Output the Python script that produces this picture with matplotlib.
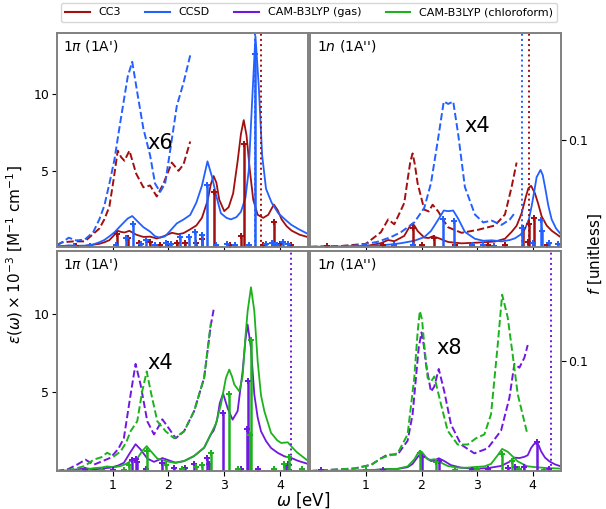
import matplotlib
matplotlib.use('Agg')
import matplotlib.pyplot as plt
import numpy as np

# colori
c_cc3 = '#a30e0e'
c_ccsd = '#2260ff'
c_gas = '#7118e0'
c_chl = '#1db21d'

# ---- 1pi (1A') coupled cluster ----
tl_ccsd_x = [0.0, 0.1, 0.21, 0.35, 0.5, 0.65, 0.76, 0.85, 0.94, 1.03, 1.12, 1.2, 1.27, 1.35, 1.45, 1.55, 1.67, 1.76, 1.85, 1.94,
             2.03, 2.15, 2.27, 2.39, 2.5, 2.6, 2.7, 2.78, 2.86, 2.94, 3.04, 3.12, 3.22, 3.3, 3.38, 3.44, 3.5, 3.56, 3.62, 3.68,
             3.75, 3.85, 3.97, 4.09, 4.2, 4.33, 4.5]
tl_ccsd_y = [0.02, 0.05, 0.1, 0.07, 0.08, 0.16, 0.3, 0.45, 0.69, 0.95, 1.3, 1.6, 1.86, 2.02, 1.65, 1.29, 1.0, 0.69, 0.6, 0.69,
             1.05, 1.54, 1.79, 2.09, 2.9, 4.0, 5.6, 4.6, 3.3, 2.2, 1.9, 1.8, 1.95, 2.3, 3.2, 5.0, 9.5, 13.8, 10.5, 6.0,
             3.8, 2.9, 2.2, 1.8, 1.45, 1.17, 0.85]
tl_cc3_x = [0.0, 0.09, 0.3, 0.5, 0.76, 0.85, 0.94, 1.02, 1.09, 1.15, 1.21, 1.3, 1.42, 1.55, 1.67, 1.79, 1.91, 2.06, 2.18, 2.27,
            2.39, 2.5, 2.6, 2.7, 2.76, 2.81, 2.86, 2.91, 3.0, 3.08, 3.16, 3.24, 3.3, 3.35, 3.4, 3.46, 3.52, 3.6, 3.7, 3.79,
            3.89, 3.96, 4.03, 4.12, 4.21, 4.35, 4.5]
tl_cc3_y = [0.02, 0.05, 0.06, 0.06, 0.2, 0.3, 0.44, 0.75, 1.05, 0.98, 0.94, 1.05, 0.8, 0.65, 0.67, 0.55, 0.69, 0.92, 0.83, 0.9,
            1.15, 1.4, 1.9, 3.0, 4.1, 4.64, 4.2, 3.1, 2.34, 2.6, 3.5, 5.6, 7.4, 8.3, 7.3, 5.0, 3.1, 2.1, 1.9, 2.1,
            2.77, 2.4, 1.8, 1.35, 1.06, 0.8, 0.64]
tl_ccsd_fx = [0.3, 0.6, 1.05, 1.23, 1.36, 1.5, 1.6, 1.75, 1.95, 2.05, 2.21, 2.36, 2.48, 2.6, 2.7, 2.85, 3.05, 3.2, 3.45, 3.55,
              3.75, 3.85, 3.95, 4.05, 4.15]
tl_ccsd_f = [0.001, 0.001, 0.002, 0.008, 0.021, 0.003, 0.006, 0.002, 0.004, 0.003, 0.009, 0.009, 0.014, 0.011, 0.058, 0.002,
             0.003, 0.002, 0.002, 0.18, 0.003, 0.004, 0.002, 0.005, 0.003]
tl_cc3_fx = [0.35, 1.07, 1.27, 1.48, 1.67, 1.85, 2.0, 2.15, 2.3, 2.5, 2.6, 2.81, 3.1, 3.3, 3.35, 3.7, 3.89, 4.0, 4.2]
tl_cc3_f = [0.001, 0.012, 0.008, 0.004, 0.005, 0.002, 0.003, 0.004, 0.004, 0.004, 0.007, 0.051, 0.002, 0.01, 0.096, 0.002,
            0.023, 0.003, 0.002]

# ---- 1n (1A'') coupled cluster ----
tr_cc3_x = [0.0, 0.5, 1.0, 1.27, 1.4, 1.51, 1.63, 1.69, 1.75, 1.8, 1.84, 1.88, 1.93, 2.05, 2.13, 2.2, 2.3, 2.42, 2.48, 2.72,
            3.02, 3.32, 3.5, 3.62, 3.71, 3.8, 3.87, 3.92, 3.97, 4.04, 4.1, 4.16, 4.25, 4.34, 4.5]
tr_cc3_y = [0.0, 0.01, 0.05, 0.24, 0.45, 0.37, 0.6, 0.72, 1.1, 1.4, 1.53, 1.35, 1.04, 0.61, 0.58, 0.69, 0.58, 0.4, 0.32, 0.23,
            0.28, 0.35, 0.53, 0.98, 1.38, 2.2, 3.2, 3.83, 4.0, 3.5, 2.8, 2.0, 1.4, 1.06, 0.64]
tr_ccsd_x = [0.0, 0.8, 1.2, 1.45, 1.63, 1.87, 2.05, 2.17, 2.3, 2.4, 2.48, 2.57, 2.66, 2.78, 2.96, 3.11, 3.26, 3.44, 3.59, 3.68,
             3.78, 3.86, 3.93, 3.98, 4.03, 4.07, 4.14, 4.18, 4.22, 4.28, 4.34, 4.42, 4.5]
tr_ccsd_y = [0.0, 0.02, 0.08, 0.16, 0.24, 0.4, 0.64, 1.04, 1.78, 2.38, 2.34, 2.38, 1.84, 0.98, 0.53, 0.4, 0.43, 0.36, 0.45, 0.56,
             0.8, 1.17, 1.8, 2.66, 3.7, 4.57, 5.04, 4.7, 3.94, 2.7, 1.8, 1.2, 0.85]
tr_cc3_fx = [0.3, 1.3, 1.5, 1.84, 2.0, 2.22, 2.6, 2.9, 3.2, 3.5, 3.83, 3.91, 3.94, 4.03, 4.25]
tr_cc3_f = [0.001, 0.002, 0.001, 0.018, 0.002, 0.008, 0.002, 0.001, 0.002, 0.002, 0.018, 0.005, 0.021, 0.027, 0.002]
tr_ccsd_fx = [1.0, 1.5, 1.85, 2.39, 2.58, 2.9, 3.1, 3.3, 3.8, 4.0, 4.14, 4.16, 4.3, 4.45]
tr_ccsd_f = [0.001, 0.002, 0.002, 0.026, 0.024, 0.002, 0.002, 0.001, 0.018, 0.004, 0.025, 0.015, 0.004, 0.003]

# ---- 1pi (1A') CAM-B3LYP ----
bl_gas_x = [0.0, 0.2, 0.36, 0.51, 0.66, 0.8, 0.96, 1.1, 1.2, 1.32, 1.41, 1.5, 1.62, 1.74, 1.82, 1.89, 1.98, 2.13, 2.28, 2.46,
            2.64, 2.76, 2.81, 2.87, 2.92, 2.98, 3.06, 3.15, 3.24, 3.33, 3.38, 3.42, 3.48, 3.54, 3.6, 3.66, 3.75, 3.84, 3.96, 4.08,
            4.2, 4.32, 4.5]
bl_gas_y = [0.0, 0.03, 0.1, 0.18, 0.1, 0.15, 0.21, 0.35, 0.52, 1.21, 1.7, 1.37, 0.79, 0.58, 0.7, 0.82, 0.71, 0.52, 0.63, 0.95,
            1.48, 2.32, 2.56, 3.2, 4.3, 4.92, 4.0, 3.26, 3.8, 6.33, 8.3, 9.3, 7.8, 4.85, 3.4, 2.52, 1.9, 1.46, 1.15, 0.93,
            0.83, 0.65, 0.45]
bl_chl_x = [0.0, 0.3, 0.5, 0.66, 0.8, 0.9, 1.02, 1.14, 1.24, 1.32, 1.44, 1.53, 1.61, 1.68, 1.8, 1.95, 2.1, 2.28, 2.46, 2.64,
            2.76, 2.85, 2.94, 3.03, 3.09, 3.14, 3.18, 3.27, 3.33, 3.38, 3.42, 3.48, 3.54, 3.6, 3.66, 3.72, 3.84, 3.95, 4.02, 4.14,
            4.22, 4.3, 4.5]
bl_chl_y = [0.0, 0.03, 0.08, 0.18, 0.22, 0.29, 0.23, 0.31, 0.45, 0.63, 0.79, 1.27, 1.58, 1.27, 0.79, 0.63, 0.52, 0.63, 0.95, 1.48,
            2.35, 3.0, 4.2, 5.9, 6.44, 6.0, 5.5, 5.06, 6.0, 8.5, 10.15, 11.67, 10.15, 6.97, 4.8, 3.8, 2.42, 1.95, 1.78, 1.82,
            1.5, 1.2, 0.65]
bl_gas_fx = [0.5, 1.0, 1.35, 1.41, 1.44, 1.6, 1.89, 2.1, 2.3, 2.46, 2.7, 2.73, 2.98, 3.3, 3.4, 3.42, 3.6, 4.1, 4.14]
bl_gas_f = [0.001, 0.001, 0.01, 0.011, 0.008, 0.002, 0.007, 0.003, 0.003, 0.006, 0.012, 0.006, 0.053, 0.002, 0.038, 0.082,
            0.002, 0.004, 0.006]
bl_chl_fx = [0.8, 1.2, 1.3, 1.61, 1.95, 2.25, 2.5, 2.6, 2.76, 3.09, 3.25, 3.46, 3.48, 3.9, 4.08, 4.16, 4.4]
bl_chl_f = [0.001, 0.001, 0.005, 0.018, 0.005, 0.002, 0.004, 0.005, 0.016, 0.07, 0.002, 0.033, 0.119, 0.002, 0.006, 0.013, 0.002]

# ---- 1n (1A'') CAM-B3LYP ----
br_gas_x = [0.0, 0.8, 1.1, 1.27, 1.39, 1.57, 1.75, 1.84, 1.9, 1.95, 2.0, 2.04, 2.08, 2.17, 2.23, 2.31, 2.41, 2.53, 2.71, 2.95,
            3.19, 3.43, 3.58, 3.67, 3.76, 3.85, 3.91, 3.97, 4.02, 4.07, 4.11, 4.15, 4.22, 4.3, 4.4, 4.5]
br_gas_y = [0.0, 0.02, 0.05, 0.1, 0.13, 0.13, 0.24, 0.45, 0.74, 0.98, 1.1, 1.0, 0.85, 0.63, 0.67, 0.81, 0.63, 0.37, 0.21, 0.14,
            0.18, 0.32, 0.58, 0.85, 0.82, 0.9, 1.0, 1.46, 1.7, 1.78, 1.6, 1.25, 0.85, 0.61, 0.42, 0.3]
br_chl_x = [0.0, 0.8, 1.1, 1.27, 1.4, 1.57, 1.75, 1.87, 1.93, 1.97, 2.01, 2.05, 2.11, 2.17, 2.23, 2.35, 2.47, 2.65, 2.83, 2.98,
            3.13, 3.25, 3.37, 3.45, 3.55, 3.64, 3.73, 3.85, 3.9, 4.03, 4.2, 4.5]
br_chl_y = [0.0, 0.02, 0.05, 0.1, 0.12, 0.14, 0.29, 0.74, 1.1, 1.27, 1.2, 1.0, 0.74, 0.71, 0.75, 0.53, 0.32, 0.21, 0.21, 0.26,
            0.29, 0.45, 1.0, 1.4, 1.22, 0.92, 0.61, 0.39, 0.3, 0.25, 0.2, 0.15]
br_gas_fx = [0.2, 1.3, 2.0, 2.31, 2.9, 3.2, 3.55, 3.68, 3.85, 4.07, 4.3]
br_gas_f = [0.001, 0.001, 0.013, 0.009, 0.001, 0.002, 0.003, 0.004, 0.004, 0.026, 0.002]
br_chl_fx = [1.0, 1.97, 2.26, 2.6, 3.0, 3.45, 3.62, 3.75, 4.2]
br_chl_f = [0.001, 0.016, 0.008, 0.001, 0.002, 0.015, 0.009, 0.002, 0.001]

# soglie (linee tratteggiate verticali)
tl_thr = [(3.56, c_ccsd), (3.66, c_cc3)]
tr_thr = [(3.80, c_ccsd), (3.94, c_cc3)]
bl_thr = [(4.19, c_gas)]
br_thr = [(4.32, c_gas)]

panels = [
    # pos, titolo, curve, stick, fattore, cutoff, testo fattore, soglie
    ([0.094, 0.515, 0.414, 0.42], r"1$\pi$ (1A')",
     [(tl_cc3_x, tl_cc3_y, c_cc3), (tl_ccsd_x, tl_ccsd_y, c_ccsd)],
     [(tl_cc3_fx, tl_cc3_f, c_cc3), (tl_ccsd_fx, tl_ccsd_f, c_ccsd)],
     6, 2.4, (1.85, 6.8), tl_thr),
    ([0.512, 0.515, 0.413, 0.42], r"1$n$ (1A'')",
     [(tr_cc3_x, tr_cc3_y, c_cc3), (tr_ccsd_x, tr_ccsd_y, c_ccsd)],
     [(tr_cc3_fx, tr_cc3_f, c_cc3), (tr_ccsd_fx, tr_ccsd_f, c_ccsd)],
     4, 3.71, (3.0, 7.9), tr_thr),
    ([0.094, 0.0747, 0.414, 0.433], r"1$\pi$ (1A')",
     [(bl_gas_x, bl_gas_y, c_gas), (bl_chl_x, bl_chl_y, c_chl)],
     [(bl_gas_fx, bl_gas_f, c_gas), (bl_chl_fx, bl_chl_f, c_chl)],
     4, 2.81, (1.86, 6.86), bl_thr),
    ([0.512, 0.0747, 0.413, 0.433], r"1$n$ (1A'')",
     [(br_gas_x, br_gas_y, c_gas), (br_chl_x, br_chl_y, c_chl)],
     [(br_gas_fx, br_gas_f, c_gas), (br_chl_fx, br_chl_f, c_chl)],
     8, 3.91, (2.5, 7.8), br_thr),
]

fig = plt.figure(figsize=(6.06, 5.09), dpi=100)

for i, (pos, title, curves, sticks, fac, cut, txt, thr) in enumerate(panels):
    ax = fig.add_axes(pos)
    ax2 = ax.twinx()
    for x, y, c in curves:
        x = np.array(x)
        y = np.array(y)
        ax.plot(x, y, color=c, lw=1.3)
        m = x <= cut
        ax.plot(x[m], y[m] * fac, color=c, lw=1.4, ls='--')
    for xt, c in thr:
        ax.axvline(xt, color=c, ls=':', lw=1.4)
    for fx, f, c in sticks:
        ax2.vlines(fx, 0, f, color=c, lw=1.8)
        ax2.plot(fx, f, 'P', color=c, ms=4, mew=0)
    ax.text(0.025, 0.975, title, transform=ax.transAxes, ha='left', va='top', fontsize=10)
    ax.text(txt[0], txt[1], 'x%d' % fac, ha='center', va='center', fontsize=15)
    ax.set_xlim(0, 4.5)
    ax.set_ylim(0, 14)
    ax2.set_ylim(0, 0.2)
    ax.set_xticks([1, 2, 3, 4])
    ax.set_yticks([5, 10])
    ax2.set_yticks([0.1])
    ax2.set_yticklabels(['0.1'])
    if i < 2:
        ax.set_xticklabels([])
    ax.tick_params(labelsize=9, pad=2)
    ax2.tick_params(labelsize=9, pad=2)
    if i % 2 == 1:
        ax.tick_params(left=False, labelleft=False)
    else:
        ax2.tick_params(right=False, labelright=False)
    for a in (ax, ax2):
        for s in a.spines.values():
            s.set_color('#808080')
            s.set_linewidth(1.2)

# legenda
handles = [plt.Line2D([], [], color=c, lw=1.5) for c in (c_cc3, c_ccsd, c_gas, c_chl)]
labels = ['CC3', 'CCSD', 'CAM-B3LYP (gas)', 'CAM-B3LYP (chloroform)']
fig.legend(handles, labels, loc='upper center', bbox_to_anchor=(0.51, 1.005), ncol=4, fontsize=8,
           frameon=True, columnspacing=2.2, handlelength=2.2)

fig.text(0.025, 0.5, r'$\varepsilon(\omega)\times10^{-3}$ [M$^{-1}$ cm$^{-1}$]', rotation=90,
         ha='center', va='center', fontsize=11)
fig.text(0.5, 0.018, r'$\omega$ [eV]', ha='center', va='center', fontsize=12)
fig.text(0.982, 0.5, r'$f$ [unitless]', rotation=90, ha='center', va='center', fontsize=11)

plt.savefig('out.png', dpi=100)
